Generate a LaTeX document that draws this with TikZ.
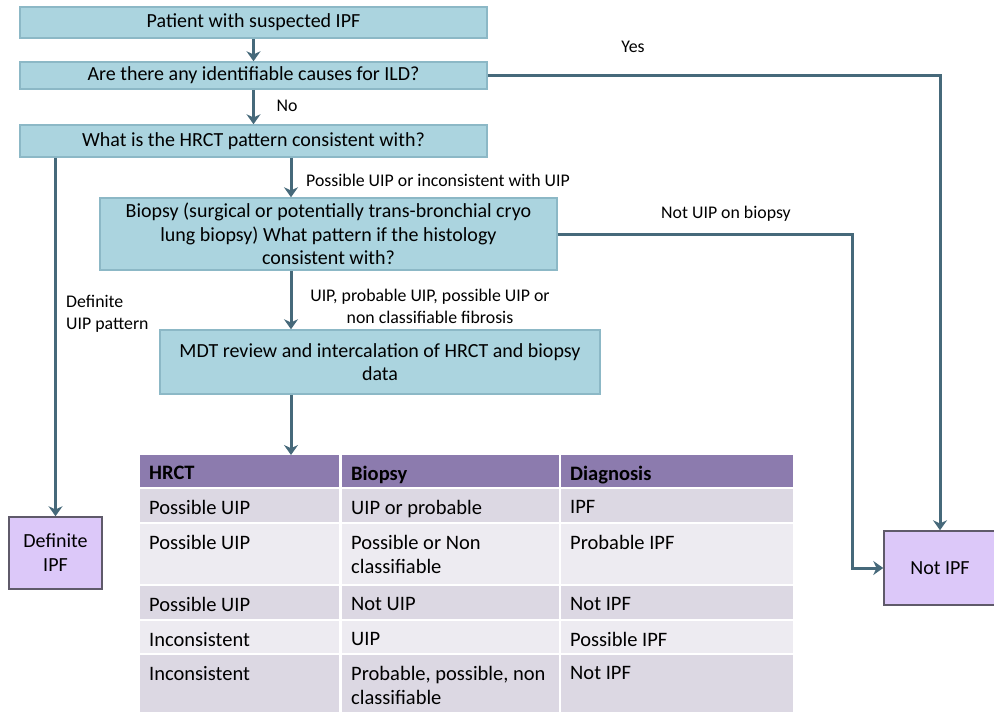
\documentclass[tikz,border=0pt]{standalone}
\usepackage{fontspec}
\setmainfont{Carlito}
\usetikzlibrary{arrows.meta}

\definecolor{boxBlue}{HTML}{ABD4DF}
\definecolor{boxEdge}{HTML}{8CB8C6}
\definecolor{flowSlate}{HTML}{46697A}
\definecolor{headPurple}{HTML}{8C7BAE}
\definecolor{rowDark}{HTML}{DCD8E3}
\definecolor{rowLight}{HTML}{EDEBF1}
\definecolor{endLilac}{HTML}{DCC8F9}
\definecolor{endEdge}{HTML}{5F5A6A}

\tikzset{
  stepbox/.style={draw=boxEdge, fill=boxBlue, line width=1.5pt, inner sep=0pt,
    align=center, font=\fontsize{20}{23.5}\selectfont},
  endbox/.style={draw=endEdge, fill=endLilac, line width=1.5pt, inner sep=0pt,
    align=center, font=\fontsize{20}{24}\selectfont},
  flow/.style={draw=flowSlate, line width=3pt, -{Stealth[length=10pt, width=14pt]}},
  lbl/.style={inner sep=0pt, font=\fontsize{17.8}{22}\selectfont},
  cellbox/.style={anchor=north west, inner sep=0pt, minimum width=#1},
  celltext/.style={anchor=north west, inner sep=0pt, align=left,
    font=\fontsize{20.5}{24}\selectfont},
}

\begin{document}
\begin{tikzpicture}[x=1pt, y=-1pt]
  \useasboundingbox (0,0) rectangle (994,712);

  % Nodes
  \node[stepbox, minimum width=467, minimum height=31] (Patient) at (253.5,22.5) {Patient with suspected IPF};
  \node[stepbox, minimum width=467, minimum height=27] (Causes) at (253.5,75.5) {Are there any identifiable causes for ILD?};
  \node[stepbox, minimum width=467, minimum height=32] (Hrct) at (253.5,141) {What is the HRCT pattern consistent with?};
  \node[stepbox, minimum width=457, minimum height=72] (Biopsy) at (328.5,234)
    {Biopsy (surgical or potentially trans-bronchial cryo\\lung biopsy) What pattern if the histology\\consistent with?};
  \node[stepbox, minimum width=440, minimum height=64] (Mdt) at (380,362)
    {MDT review and intercalation of HRCT and biopsy\\data};
  \node[endbox, minimum width=93, minimum height=72] (DefIpf) at (55.5,553) {Definite\\IPF};
  \node[endbox, minimum width=112, minimum height=74] (NotIpf) at (940,568) {Not IPF};

  \coordinate (Spine) at (291,0);
  \coordinate (Bend) at (852,234);

  % Table
  \foreach \name/\x/\y/\w/\h/\shade/\txt in {
      HeadHrct/140/455/199/32/headPurple/{\textbf{HRCT}},
      HeadBiopsy/342/455/217/32/headPurple/{\textbf{Biopsy}},
      HeadDiag/561/455/232/32/headPurple/{\textbf{Diagnosis}},
      RowAHrct/140/489/199/33/rowDark/{Possible UIP},
      RowABiopsy/342/489/217/33/rowDark/{UIP or probable},
      RowADiag/561/489/232/33/rowDark/{IPF},
      RowBHrct/140/524/199/60/rowLight/{Possible UIP},
      RowBBiopsy/342/524/217/60/rowLight/{Possible or Non\\classifiable},
      RowBDiag/561/524/232/60/rowLight/{Probable IPF},
      RowCHrct/140/586/199/33/rowDark/{Possible UIP},
      RowCBiopsy/342/586/217/33/rowDark/{Not UIP},
      RowCDiag/561/586/232/33/rowDark/{Not IPF},
      RowDHrct/140/621/199/32/rowLight/{Inconsistent},
      RowDBiopsy/342/621/217/32/rowLight/{UIP},
      RowDDiag/561/621/232/32/rowLight/{Possible IPF},
      RowEHrct/140/655/199/60/rowDark/{Inconsistent},
      RowEBiopsy/342/655/217/60/rowDark/{Probable, possible, non\\classifiable},
      RowEDiag/561/655/232/60/rowDark/{Not IPF}} {
    \node[cellbox=\w, minimum height=\h, fill=\shade] (\name) at (\x,\y) {};
    \node[celltext] (\name Text) at ({\x+9},{\y+11}) {\txt};
  }

  % Labels
  \node[lbl] (YesLbl) at (633,47) {Yes};
  \node[lbl] (NoLbl) at (287,106) {No};
  \node[lbl, anchor=west] (PossibleLbl) at (306,180) {Possible UIP or inconsistent with UIP};
  \node[lbl] (NotUipLbl) at (726,214) {Not UIP on biopsy};
  \node[lbl, anchor=west, align=left] (DefiniteLbl) at (66,314) {Definite\\UIP pattern};
  \node[lbl, align=center] (UipLbl) at (430,306) {UIP, probable UIP, possible UIP or\\non classifiable fibrosis};

  % Arrows
  \draw[flow] (Patient) -- (Causes);
  \draw[flow] (Causes) -- (Hrct);
  \draw[flow] (Causes.east) -| (NotIpf.north);
  \draw[flow] (Hrct.south -| Spine) -- (Biopsy.north -| Spine);
  \draw[flow] (Hrct.south -| DefIpf.north) -- (DefIpf.north);
  \draw[flow] (Biopsy.east) -- (Bend) |- (NotIpf.west);
  \draw[flow] (Biopsy.south -| Spine) -- (Mdt.north -| Spine);
  \draw[flow] (Mdt.south -| Spine) -- (HeadHrct.north -| Spine);
\end{tikzpicture}
\end{document}
